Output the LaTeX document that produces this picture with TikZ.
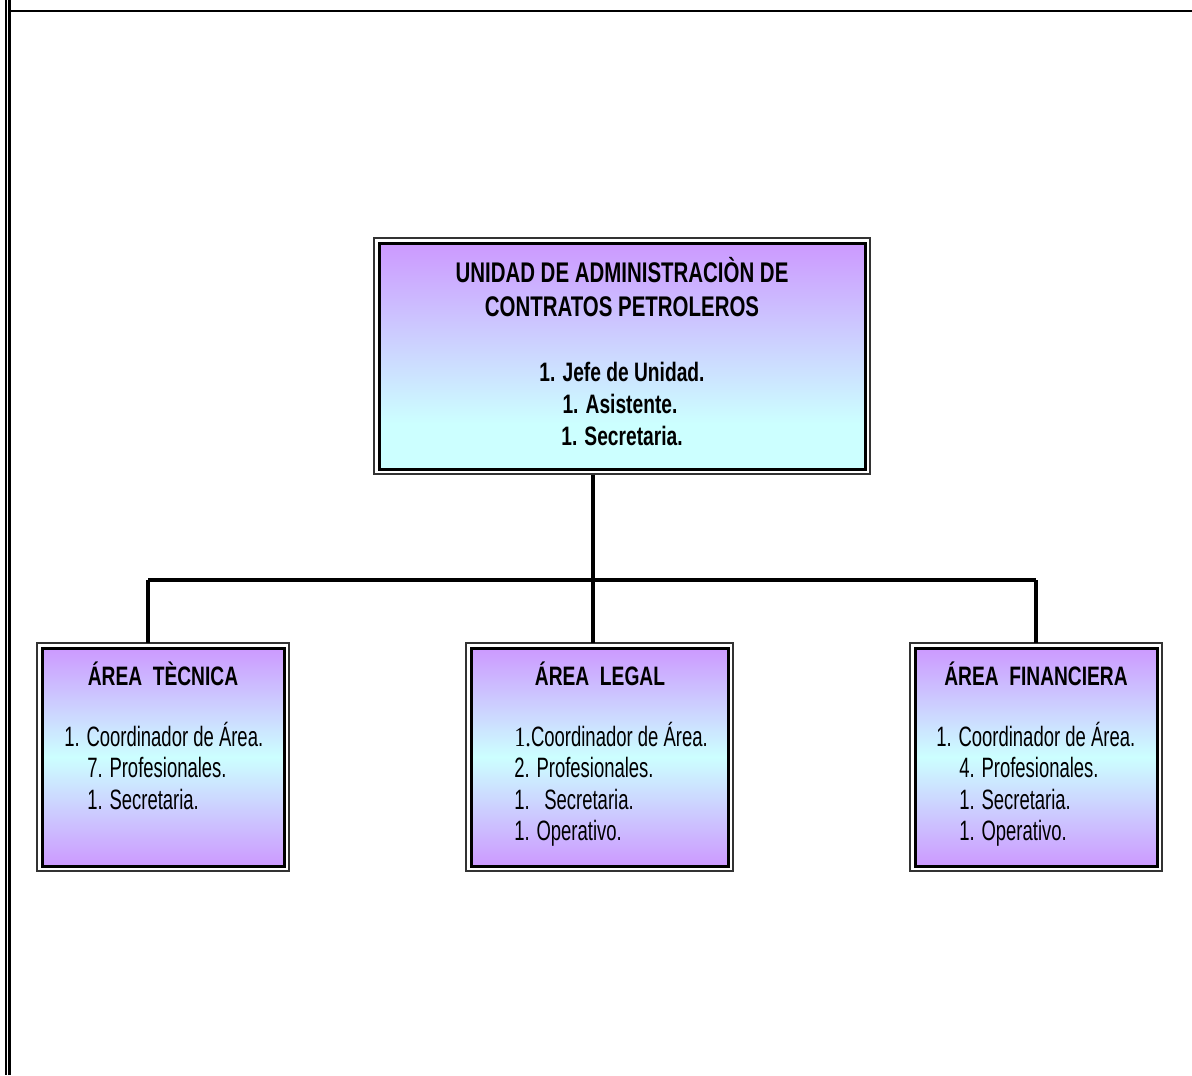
\documentclass[tikz,border=0pt]{standalone}
\usepackage{fontspec}
\setmainfont{Liberation Sans}
\newfontfamily\headfont{Liberation Sans}[FakeStretch=0.72]
\newfontfamily\listfont{Liberation Sans}[FakeStretch=0.66]
\newfontfamily\numfont{Liberation Serif}[FakeStretch=0.8]
\definecolor{lav}{RGB}{204,153,255}
\definecolor{aqua}{RGB}{204,255,255}
% lavender on top fading to pale cyan near the bottom
\pgfdeclareverticalshading{unitshade}{100bp}{color(0bp)=(aqua); color(35bp)=(aqua); color(75bp)=(lav); color(100bp)=(lav)}
% lavender - cyan - lavender band
\pgfdeclareverticalshading{areashade}{100bp}{color(0bp)=(lav); color(25bp)=(lav); color(50bp)=(aqua); color(75bp)=(lav); color(100bp)=(lav)}
\begin{document}
\begin{tikzpicture}[x=0.75pt,y=-0.75pt,
  panel/.style={draw=black,line width=2.25pt,inner sep=0pt},
  unitpanel/.style={panel,shading=unitshade,minimum width=364.5pt,minimum height=169.5pt},
  areapanel/.style={panel,shading=areashade,minimum height=163.5pt},
  outerframe/.style={draw=black!80,line width=1.4pt},
  link/.style={line width=2.4pt},
  headtxt/.style={inner sep=0pt,anchor=base,font=\headfont\bfseries\fontsize{20pt}{24pt}\selectfont},
  titletxt/.style={headtxt,font=\headfont\bfseries\fontsize{21.3pt}{25pt}\selectfont},
  listtxt/.style={inner sep=0pt,anchor=base west,font=\listfont\fontsize{21pt}{25pt}\selectfont},
  rule/.style={line width=1.7pt}]
\useasboundingbox (0,0) rectangle (1192,1075);

% page rules
\draw[rule] (6,0) -- (6,1075);
\draw[rule] (9.5,0) -- (9.5,1075);
\draw[rule] (9.5,11) -- (1192,11);

% unit box
\node[unitpanel] (unit) at (622,356) {};
\draw[outerframe] ([xshift=-2.8pt,yshift=2.8pt]unit.north west) rectangle ([xshift=2.8pt,yshift=-2.8pt]unit.south east);

% area boxes
\node[areapanel,minimum width=181.5pt] (tec) at (163,757) {};
\node[areapanel,minimum width=192.75pt] (leg) at (599.5,757) {};
\node[areapanel,minimum width=181.5pt] (fin) at (1036,757) {};
\foreach \b in {tec,leg,fin}
  \draw[outerframe] ([xshift=-2.8pt,yshift=2.8pt]\b.north west) rectangle ([xshift=2.8pt,yshift=-2.8pt]\b.south east);

% connectors
\coordinate (bus) at (593,580);
\coordinate (busL) at (148,580);
\coordinate (busR) at (1036,580);
\draw[link] ([yshift=-3pt]unit.south -| bus) -- (bus);
\draw[link] (busL) -- (busR);
\draw[link] (busL) -- ([yshift=3pt]busL |- tec.north);
\draw[link] (bus) -- ([yshift=3pt]bus |- leg.north);
\draw[link] (busR) -- ([yshift=3pt]fin.north);

% unit texts
\node[titletxt] (u1) at (622,282) {UNIDAD DE ADMINISTRACIÒN DE};
\node[titletxt] (u2) at (622,316) {CONTRATOS PETROLEROS};
\node[headtxt] (u3) at (622,381) {1. Jefe de Unidad.};
\node[headtxt] (u4) at (620,413) {1. Asistente.};
\node[headtxt] (u5) at (622,445) {1. Secretaria.};

% area headers
\node[headtxt] (h1) at (163,685) {ÁREA\ \ TÈCNICA};
\node[headtxt] (h2) at (600,685) {ÁREA\ \ LEGAL};
\node[headtxt] (h3) at (1036,685) {ÁREA\ \ FINANCIERA};

% technical area staff
\node[listtxt] (a1) at (64,746) {1. Coordinador de Área.};
\node[listtxt] (a2) at (87,777) {7. Profesionales.};
\node[listtxt] (a3) at (87,809) {1. Secretaria.};

% legal area staff
\node[listtxt] (b1) at (514,746) {{\numfont 1.}Coordinador de Área.};
\node[listtxt] (b2) at (514,777) {2. Profesionales.};
\node[listtxt] (b3) at (514,809) {1.\hspace{11pt}Secretaria.};
\node[listtxt] (b4) at (514,840) {1. Operativo.};

% financial area staff
\node[listtxt] (c1) at (936,746) {1. Coordinador de Área.};
\node[listtxt] (c2) at (959,777) {4. Profesionales.};
\node[listtxt] (c3) at (959,809) {1. Secretaria.};
\node[listtxt] (c4) at (959,840) {1. Operativo.};
\end{tikzpicture}
\end{document}
